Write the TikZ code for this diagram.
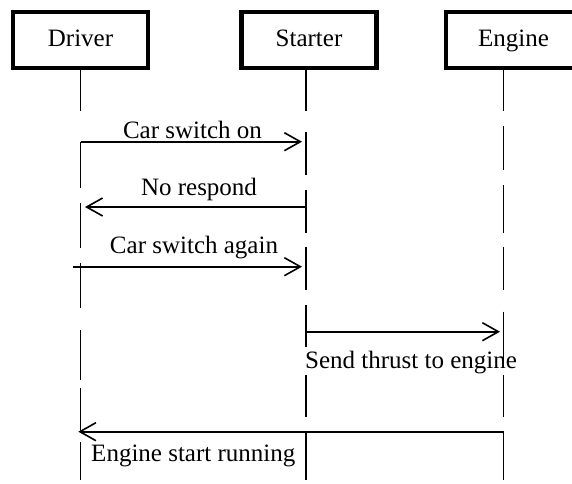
\documentclass[tikz,border=0pt]{standalone}
\usepackage{fontspec}
\setmainfont{Liberation Serif}
\usetikzlibrary{arrows.meta}
\begin{document}
\begin{tikzpicture}[x=1pt,y=-1pt,
  every node/.style={font=\fontsize{25}{30}\selectfont},
  actor/.style={draw,line width=4.5pt,minimum width=135pt,minimum height=56pt,
    inner sep=0pt,text height=16.5pt,text depth=3pt},
  life/.style={line width=1.6pt},
  msg/.style={line width=1.6pt,
    -{Straight Barb[length=16pt,width=18pt,line width=1.6pt]}},
  lbl/.style={inner sep=0pt,anchor=base}]
\useasboundingbox (0,0) rectangle (572,483);

% participants
\node[actor] (drv) at (80.5,40) {Driver};
\node[actor] (sta) at (309,40) {Starter};
\node[actor] (eng) at (513.5,40) {Engine};

% lifeline ends
\coordinate (drvTop) at (80.5,70);
\coordinate (drvEnd) at (80.5,480);
\coordinate (staTop) at (306,70);
\coordinate (staEnd) at (306,480);
\coordinate (engTop) at (503.5,70);
\coordinate (engEnd) at (503.5,480);

% lifelines (broken into long dashes)
\draw[life,dash pattern=on 41pt off 30.7pt on 46.6pt off 15pt on 45pt off 15pt
  on 44.7pt off 22pt on 50pt off 8pt on 44pt off 10pt on 38pt]
  (drvTop) -- (drvEnd);
\draw[life,dash pattern=on 41pt off 20.7pt on 43.3pt off 15pt on 43.3pt off 13.4pt
  on 43.3pt off 15pt on 42pt off 28pt on 42pt off 15pt on 48pt]
  (staTop) -- (staEnd);
\draw[life,dash pattern=on 41pt off 15pt on 44pt off 15pt on 48pt off 14pt
  on 43pt off 21.7pt on 48.3pt off 15pt on 41.7pt off 15pt on 48.3pt]
  (engTop) -- (engEnd);

% messages
\draw[msg] (drvTop |- 0,141.7) -- ([xshift=-4pt]staTop |- 0,141.7);
\node[lbl] (m1) at (192.5,138.3) {Car switch on};

\draw[msg] (staTop |- 0,207) -- ([xshift=4.5pt]drvTop |- 0,207);
\node[lbl] (m2) at (199,195) {No respond};

\draw[msg] ([xshift=-7.5pt]drvTop |- 0,266.7) -- ([xshift=-4pt]staTop |- 0,266.7);
\node[lbl] (m3) at (194,253) {Car switch again};

\draw[msg] (staTop |- 0,331.7) -- ([xshift=-3.5pt]engTop |- 0,331.7);
\node[lbl,anchor=base west] (m4) at (305,368.5) {Send thrust to engine};

\draw[msg] (engTop |- 0,431.7) -- ([xshift=-2.2pt]drvTop |- 0,431.7);
\node[lbl] (m5) at (193.3,461) {Engine start running};
\end{tikzpicture}
\end{document}
